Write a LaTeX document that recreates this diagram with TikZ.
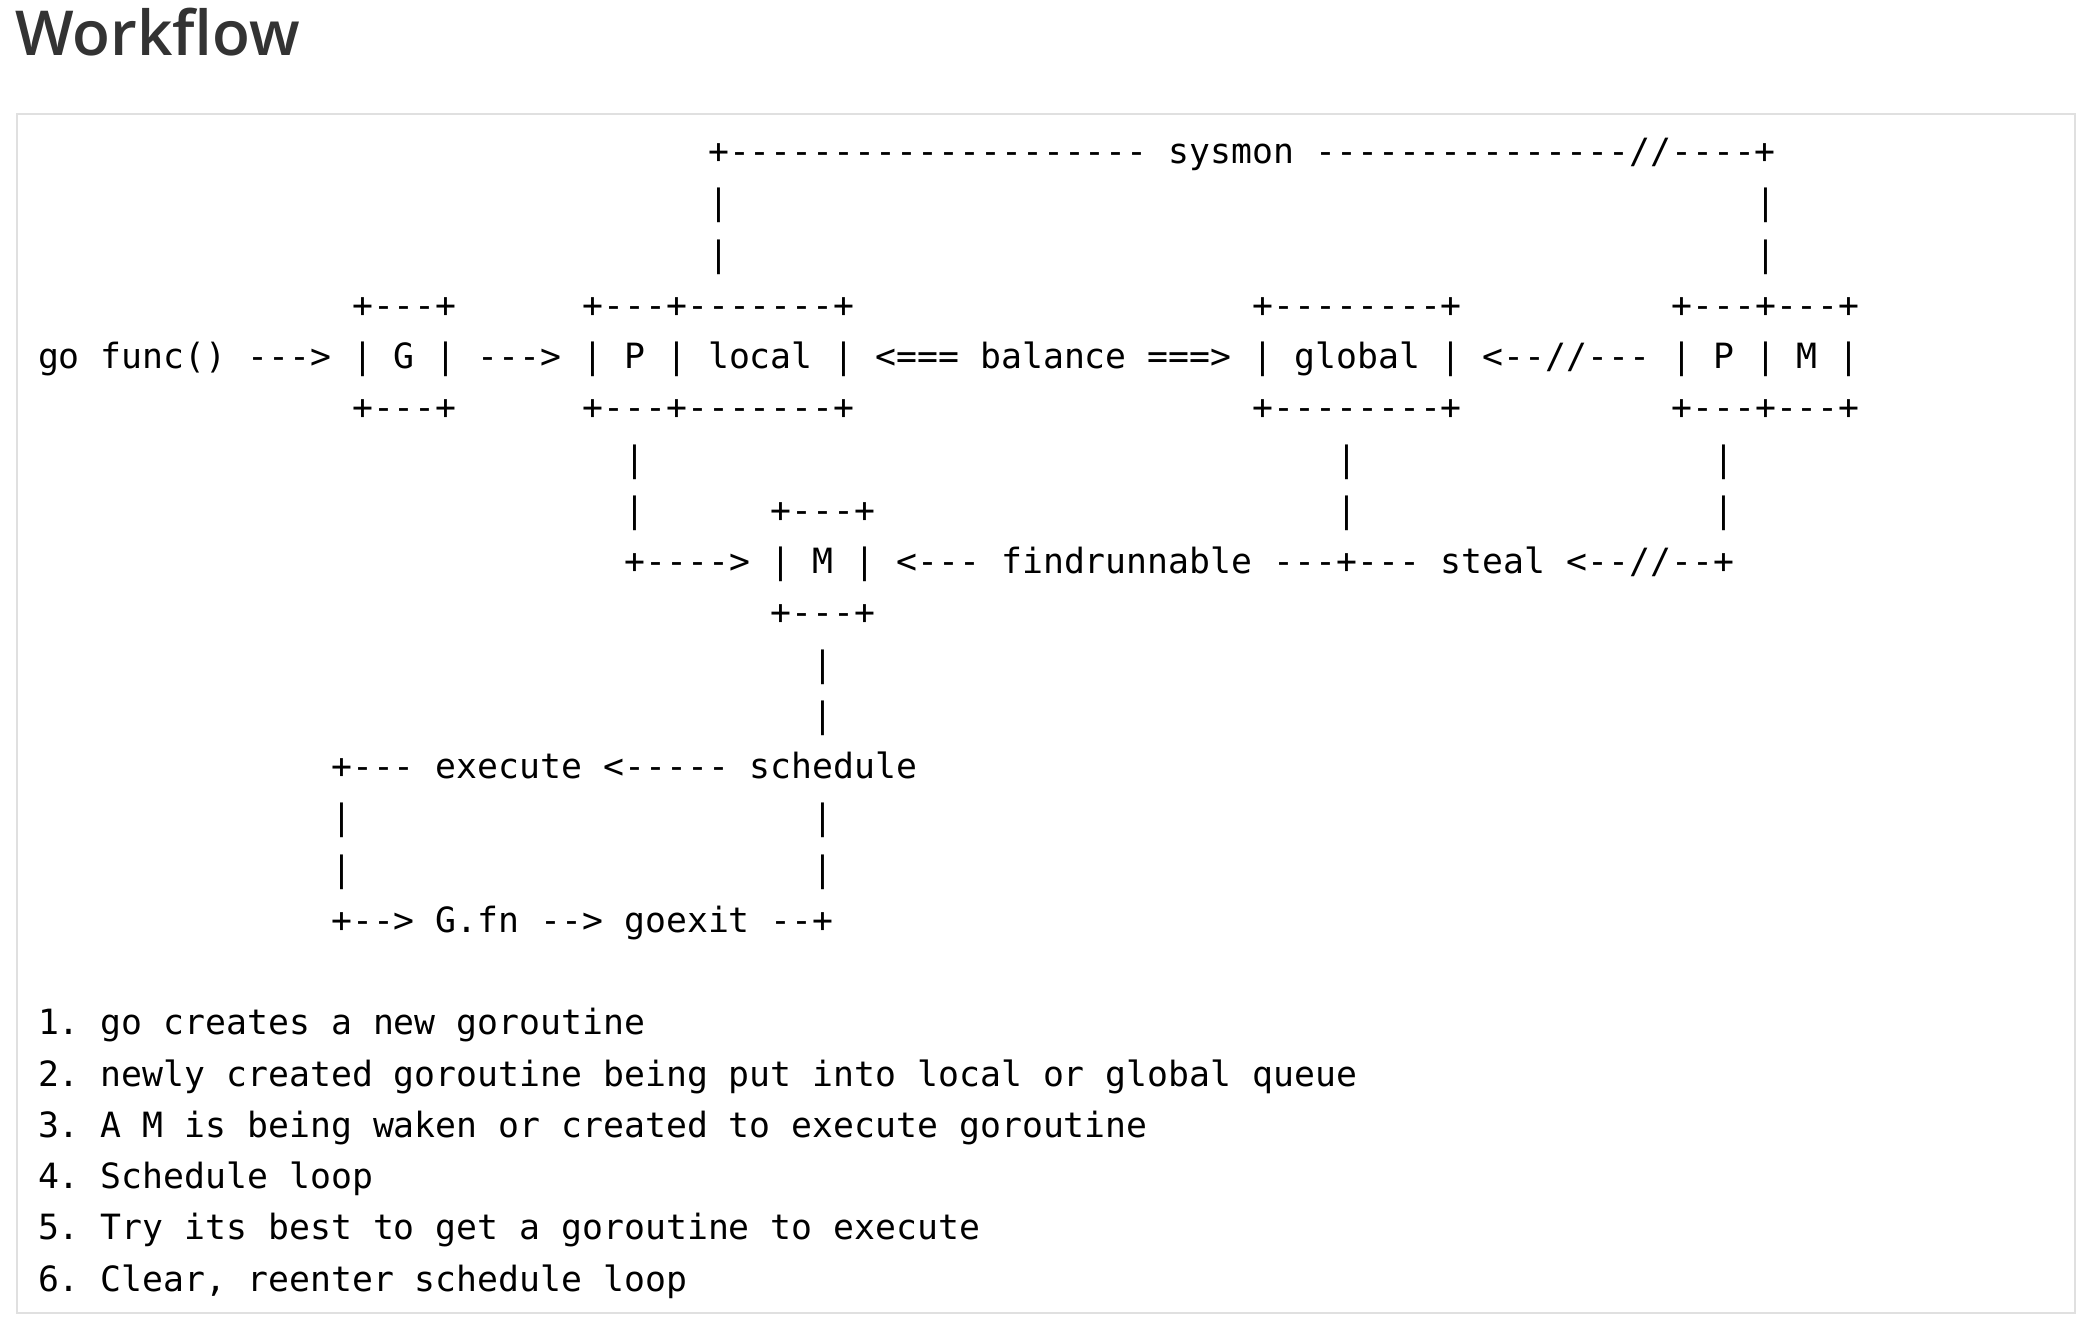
\documentclass[tikz,border=0pt]{standalone}
\usepackage{fontspec}
\setmonofont{DejaVu Sans Mono}
\IfFontExistsTF{Open Sans SemiBold}{\newfontfamily\titlefont{Open Sans SemiBold}}{%
  \IfFontExistsTF{Open Sans Semibold}{\newfontfamily\titlefont{Open Sans Semibold}}{%
    \newfontfamily\titlefont{Open Sans}[FakeBold=1.2]}}
\newcommand\cx[1]{38+20.94*(#1)}
\newcommand\ry[1]{163.5+51.25*(#1)}
\begin{document}
\begin{tikzpicture}[x=0.5pt,y=-0.5pt,
  art/.style={anchor=base west,inner sep=0pt,outer sep=0pt,font=\ttfamily\fontsize{17.39}{20}\selectfont,text=black},
  frame/.style={draw=black!12,line width=1.2pt,fill=white}]
\useasboundingbox[fill=white] (0,0) rectangle (2096,1324);
\node[anchor=base west,inner sep=0pt,font=\titlefont\fontsize{31}{35}\selectfont,text=black!80] (title) at (15,55) {Workflow};
\draw[frame] (17,114) rectangle (2075,1313);
% row 0
\node[art] (sysmon) at ({\cx{32}},{\ry{0}}) {+-------------------- sysmon ---------------//----+};
% rows 1-2
\node[art] (v1a) at ({\cx{32}},{\ry{1}}) {|};
\node[art] (v1b) at ({\cx{82}},{\ry{1}}) {|};
\node[art] (v2a) at ({\cx{32}},{\ry{2}}) {|};
\node[art] (v2b) at ({\cx{82}},{\ry{2}}) {|};
% row 3
\node[art] (gtop) at ({\cx{15}},{\ry{3}}) {+---+};
\node[art] (ptop) at ({\cx{26}},{\ry{3}}) {+---+-------+};
\node[art] (globtop) at ({\cx{58}},{\ry{3}}) {+--------+};
\node[art] (pmtop) at ({\cx{78}},{\ry{3}}) {+---+---+};
% row 4
\node[art] (gofunc) at ({\cx{0}},{\ry{4}}) {go func() --->};
\node[art] (gbox) at ({\cx{15}},{\ry{4}}) {| G |};
\node[art] (arr1) at ({\cx{21}},{\ry{4}}) {--->};
\node[art] (plocal) at ({\cx{26}},{\ry{4}}) {| P | local |};
\node[art] (balance) at ({\cx{40}},{\ry{4}}) {<=== balance ===>};
\node[art] (global) at ({\cx{58}},{\ry{4}}) {| global |};
\node[art] (arr2) at ({\cx{69}},{\ry{4}}) {<--//---};
\node[art] (pm) at ({\cx{78}},{\ry{4}}) {| P | M |};
% row 5
\node[art] (gbot) at ({\cx{15}},{\ry{5}}) {+---+};
\node[art] (pbot) at ({\cx{26}},{\ry{5}}) {+---+-------+};
\node[art] (globbot) at ({\cx{58}},{\ry{5}}) {+--------+};
\node[art] (pmbot) at ({\cx{78}},{\ry{5}}) {+---+---+};
% row 6
\node[art] (v6a) at ({\cx{28}},{\ry{6}}) {|};
\node[art] (v6b) at ({\cx{62}},{\ry{6}}) {|};
\node[art] (v6c) at ({\cx{80}},{\ry{6}}) {|};
% row 7
\node[art] (v7a) at ({\cx{28}},{\ry{7}}) {|};
\node[art] (mtop) at ({\cx{35}},{\ry{7}}) {+---+};
\node[art] (v7b) at ({\cx{62}},{\ry{7}}) {|};
\node[art] (v7c) at ({\cx{80}},{\ry{7}}) {|};
% row 8
\node[art] (arr3) at ({\cx{28}},{\ry{8}}) {+---->};
\node[art] (mbox) at ({\cx{35}},{\ry{8}}) {| M |};
\node[art] (find) at ({\cx{41}},{\ry{8}}) {<--- findrunnable ---+--- steal <--//--+};
% row 9
\node[art] (mbot) at ({\cx{35}},{\ry{9}}) {+---+};
% rows 10-11
\node[art] (v10) at ({\cx{37}},{\ry{10}}) {|};
\node[art] (v11) at ({\cx{37}},{\ry{11}}) {|};
% row 12
\node[art] (exec) at ({\cx{14}},{\ry{12}}) {+--- execute <----- schedule};
% rows 13-14
\node[art] (v13a) at ({\cx{14}},{\ry{13}}) {|};
\node[art] (v13b) at ({\cx{37}},{\ry{13}}) {|};
\node[art] (v14a) at ({\cx{14}},{\ry{14}}) {|};
\node[art] (v14b) at ({\cx{37}},{\ry{14}}) {|};
% row 15
\node[art] (gfn) at ({\cx{14}},{\ry{15}}) {+--> G.fn --> goexit --+};
% list
\node[art] (l1) at ({\cx{0}},{\ry{17}}) {1. go creates a new goroutine};
\node[art] (l2) at ({\cx{0}},{\ry{18}}) {2. newly created goroutine being put into local or global queue};
\node[art] (l3) at ({\cx{0}},{\ry{19}}) {3. A M is being waken or created to execute goroutine};
\node[art] (l4) at ({\cx{0}},{\ry{20}}) {4. Schedule loop};
\node[art] (l5) at ({\cx{0}},{\ry{21}}) {5. Try its best to get a goroutine to execute};
\node[art] (l6) at ({\cx{0}},{\ry{22}}) {6. Clear, reenter schedule loop};
\end{tikzpicture}
\end{document}
